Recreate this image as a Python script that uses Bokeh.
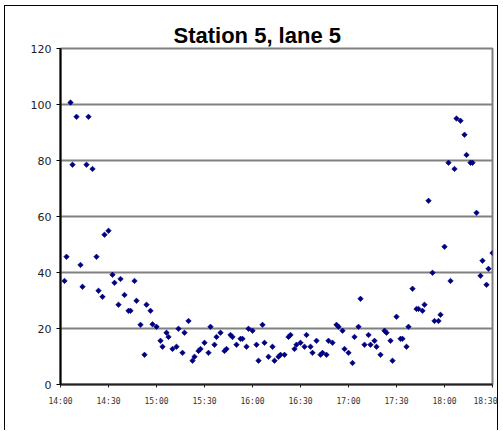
import math
from bokeh.plotting import figure
from bokeh.models import FixedTicker, ColumnDataSource, Range1d
from bokeh.embed import file_html
from bokeh.resources import INLINE

# minutes after 14:00
minutes = [2.5, 3.75, 6.25, 7.5, 10, 12.5, 13.75, 16.25, 17.5, 20, 22.5, 23.75, 26.25, 27.5, 30,
           32.5, 33.75, 36.25, 37.5, 40, 42.5, 43.75, 46.25, 47.5, 50, 52.5, 53.75, 56.25, 57.5, 60,
           62.5, 63.75, 66.25, 67.5, 70, 72.5, 73.75, 76.25, 77.5, 80, 82.5, 83.75, 86.25, 87.5, 90,
           92.5, 93.75, 96.25, 97.5, 100, 102.5, 103.75, 106.25, 107.5, 110, 112.5, 113.75, 116.25, 117.5, 120,
           122.5, 123.75, 126.25, 127.5, 130, 132.5, 133.75, 136.25, 137.5, 140, 142.5, 143.75, 146.25, 147.5, 150,
           152.5, 153.75, 156.25, 157.5, 160, 162.5, 163.75, 166.25, 167.5, 170, 172.5, 173.75, 176.25, 177.5, 180,
           182.5, 183.75, 186.25, 187.5, 190, 192.5, 193.75, 196.25, 197.5, 200, 202.5, 203.75, 206.25, 207.5, 210,
           212.5, 213.75, 216.25, 217.5, 220, 222.5, 223.75, 226.25, 227.5, 230, 232.5, 233.75, 236.25, 237.5, 240,
           242.5, 243.75, 246.25, 247.5, 250, 252.5, 253.75, 256.25, 257.5, 260, 262.5, 263.75, 266.25, 267.5, 270]
values = [37.0, 45.6, 100.7, 78.5, 95.6, 42.7, 34.9, 78.5, 95.6, 77.0, 45.6, 33.5, 31.3, 53.5, 54.9,
          39.2, 36.3, 28.5, 37.7, 32.0, 26.3, 26.3, 37.0, 29.9, 21.3, 10.6, 28.5, 26.3, 21.5, 20.6,
          15.6, 13.5, 18.5, 17.0, 12.7, 13.5, 19.9, 11.3, 18.5, 22.7, 8.5, 9.9, 12.0, 12.7, 14.9,
          11.3, 20.6, 14.2, 17.0, 18.5, 12.0, 12.7, 17.7, 17.0, 14.2, 16.3, 16.3, 13.5, 19.9, 19.2,
          14.2, 8.5, 21.3, 14.9, 9.9, 13.5, 8.5, 9.9, 10.6, 10.6, 17.0, 17.7, 12.7, 14.2, 14.9,
          13.5, 17.7, 13.5, 11.3, 15.6, 10.6, 11.3, 10.6, 15.6, 14.9, 21.3, 20.6, 19.2, 12.7, 11.3,
          7.7, 17.0, 20.6, 30.6, 14.2, 17.7, 14.2, 15.6, 13.5, 10.6, 19.2, 18.5, 15.6, 8.5, 24.2,
          16.3, 16.3, 13.5, 20.6, 34.2, 27.0, 27.0, 26.3, 28.5, 65.6, 39.9, 22.7, 22.7, 24.9, 49.2,
          79.2, 37.0, 77.0, 95.0, 94.2, 89.2, 82.0, 79.2, 79.2, 61.3, 38.8, 44.2, 35.6, 41.3, 47.0]

tick_minutes = [0, 30, 60, 90, 120, 150, 180, 210, 240, 270]
tick_labels = ["14:00", "14:30", "15:00", "15:30", "16:00", "16:30", "17:00", "17:30", "18:00", "18:30"]
y_ticks = [0, 20, 40, 60, 80, 100, 120]

src = ColumnDataSource(dict(x=minutes, y=values))

p = figure(width=494, height=425, output_backend="svg", toolbar_location=None,
           x_range=Range1d(0, 270), y_range=Range1d(0, 120),
           min_border_left=55, min_border_right=7, min_border_top=42, min_border_bottom=47,
           title="Station 5, lane 5")
p.styles = {"margin-left": "4px", "margin-top": "5px",
            "border-left": "1px solid black", "border-top": "1px solid black",
            "border-right": "1px solid black"}

p.title.align = "left"
p.title.text_font = "Liberation Sans"
p.title.text_font_size = "22px"
p.title.text_font_style = "bold"
p.title.text_color = "black"
p.title.offset = 113
p.title.standoff = 2

p.background_fill_color = "white"
p.border_fill_color = "white"
p.outline_line_color = "#808080"
p.outline_line_width = 2

p.xgrid.visible = False
p.ygrid.ticker = FixedTicker(ticks=y_ticks)
p.ygrid.grid_line_color = "#808080"
p.ygrid.grid_line_width = 2

p.xaxis.ticker = FixedTicker(ticks=tick_minutes)
p.xaxis.major_label_overrides = {m: l for m, l in zip(tick_minutes, tick_labels)}
p.xaxis.major_label_text_font = "DejaVu Sans Mono"
p.xaxis.major_label_text_font_size = "8px"
p.xaxis.major_label_text_color = "#333333"
p.xaxis.major_tick_out = 3
p.xaxis.major_tick_in = 0
p.xaxis.minor_tick_out = 0
p.xaxis.minor_tick_in = 0
p.xaxis.major_label_standoff = 9
p.xaxis.axis_line_color = "#222222"
p.xaxis.axis_line_width = 2
p.xaxis.major_tick_line_color = "#222222"

p.yaxis.ticker = FixedTicker(ticks=y_ticks)
p.yaxis.major_label_text_font = "DejaVu Sans"
p.yaxis.major_label_text_font_size = "11px"
p.yaxis.major_label_text_color = "#222222"
p.yaxis.major_tick_out = 4
p.yaxis.major_tick_in = 0
p.yaxis.minor_tick_out = 0
p.yaxis.minor_tick_in = 0
p.yaxis.major_label_standoff = 5
p.yaxis.axis_line_color = "black"
p.yaxis.axis_line_width = 2
p.yaxis.major_tick_line_color = "black"

p.scatter("x", "y", source=src, marker="square", angle=math.pi / 4, size=3.9,
          fill_color="#000080", line_color="#000080", line_width=0.6)

open("out.html", "w").write(file_html(p, INLINE))
